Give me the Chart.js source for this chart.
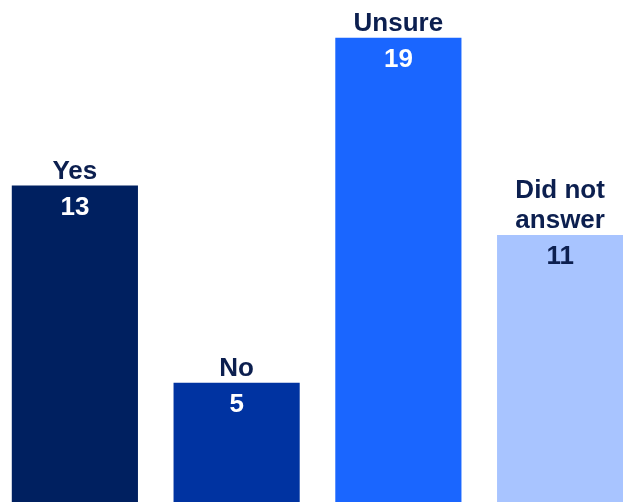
<!DOCTYPE html>
<html>
<head>
<meta charset="utf-8">
<script src="https://cdn.jsdelivr.net/npm/chart.js@4"></script>
<style>
  html, body { margin: 0; padding: 0; background: #fff; overflow: hidden; }
  #wrap { position: absolute; left: -6px; top: 0; width: 647px; height: 506px; }
</style>
</head>
<body>
<div id="wrap"><canvas id="chart"></canvas></div>
<script>
const categories = [['Yes'], ['No'], ['Unsure'], ['Did not', 'answer']];
const counts = [13, 5, 19, 11];
const barColors = ['#002060', '#0033a1', '#1a66ff', '#a8c4ff'];
const valueColors = ['#ffffff', '#ffffff', '#ffffff', '#0c1f4f'];
const labelColor = '#0c1f4f';

const barLabels = {
    id: 'barLabels',
    afterDatasetsDraw(chart) {
        const ctx = chart.ctx;
        const meta = chart.getDatasetMeta(0);
        ctx.save();
        ctx.font = 'bold 26px "Liberation Sans", Arial, sans-serif';
        ctx.textAlign = 'center';
        ctx.textBaseline = 'alphabetic';
        meta.data.forEach((bar, i) => {
            const lines = categories[i];
            ctx.fillStyle = labelColor;
            for (let k = 0; k < lines.length; k++) {
                const offset = (lines.length - 1 - k) * 30;
                ctx.fillText(lines[k], bar.x, bar.y - 7 - offset);
            }
            ctx.fillStyle = valueColors[i];
            ctx.fillText(String(counts[i]), bar.x, bar.y + 29);
        });
        ctx.restore();
    }
};

new Chart(document.getElementById('chart'), {
    type: 'bar',
    data: {
        labels: categories.map(l => l.join(' ')),
        datasets: [{
            data: counts,
            backgroundColor: barColors,
            borderWidth: 0,
            categoryPercentage: 1,
            barPercentage: 0.78
        }]
    },
    options: {
        responsive: true,
        maintainAspectRatio: false,
        animation: false,
        layout: { padding: 0 },
        plugins: {
            legend: { display: false },
            tooltip: { enabled: false }
        },
        scales: {
            x: { display: false },
            y: { display: false, min: 0, max: 20.53 }
        }
    },
    plugins: [barLabels]
});
</script>
</body>
</html>
